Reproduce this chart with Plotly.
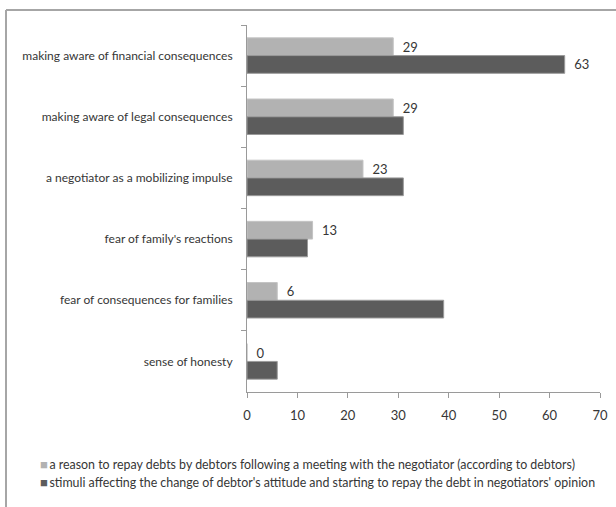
import plotly.graph_objects as go

categories = [
    "making aware of financial consequences",
    "making aware of legal consequences",
    "a negotiator as a mobilizing impulse",
    "fear of family's reactions",
    "fear of consequences for families",
    "sense of honesty",
]
debtors = [29, 29, 23, 13, 6, 0]
negotiators = [63, 31, 31, 12, 39, 6]
debtors_name = "a reason to repay debts by debtors following a meeting with the negotiator (according to debtors)"
negotiators_name = "stimuli affecting the change of debtor's attitude and starting to repay the debt in negotiators' opinion"
x_ticks = [0, 10, 20, 30, 40, 50, 60, 70]
neg_labelled = [True, False, False, False, False, False]

FONT = "Lato, 'Liberation Sans Narrow', sans-serif"
W, H = 616, 507
L, R, T, B = 247, 16, 25, 115
LIGHT, DARK = "#b2b2b2", "#5c5c5c"
TXT = "#363636"

fig = go.Figure()
fig.add_trace(go.Bar(
    y=categories, x=debtors, orientation="h", name=debtors_name,
    marker=dict(color=LIGHT, line=dict(color="#c4c4c4", width=1)),
    text=[str(v) for v in debtors], texttemplate="\u2002%{text}", textposition="outside",
    textfont=dict(family=FONT, size=13, color=TXT), cliponaxis=False, showlegend=False,
))
fig.add_trace(go.Bar(
    y=categories, x=negotiators, orientation="h", name=negotiators_name,
    marker=dict(color=DARK, line=dict(color="#9a9a9a", width=1)),
    text=[str(v) if f else "" for v, f in zip(negotiators, neg_labelled)],
    texttemplate="\u2002%{text}", textposition="outside",
    textfont=dict(family=FONT, size=13, color=TXT), cliponaxis=False, showlegend=False,
))

pw = W - L - R
ph = H - T - B
def px(xp):
    return (xp - L) / pw
def py(yp):
    return (H - B - yp) / ph

shapes = [
    dict(type="line", xref="paper", yref="paper", x0=px(6), x1=px(6), y0=py(10), y1=py(507),
         line=dict(color="#a6a6a6", width=2)),
    dict(type="line", xref="paper", yref="paper", x0=px(6), x1=px(616), y0=py(10), y1=py(10),
         line=dict(color="#a6a6a6", width=2)),
]

legend_items = [(debtors_name, LIGHT, 464), (negotiators_name, DARK, 482)]
annotations = [
    dict(xref="paper", yref="paper", x=px(38), y=py(yc), xanchor="left", yanchor="middle",
         showarrow=False, align="left",
         text=f"<span style='color:{c}; font-size:13px'>\u25a0</span>\u2009{name}",
         font=dict(family=FONT, size=12.4, color=TXT))
    for name, c, yc in legend_items
]

fig.update_layout(
    width=W, height=H,
    margin=dict(l=L, r=R, t=T, b=B, autoexpand=False),
    paper_bgcolor="white", plot_bgcolor="white",
    barmode="group", bargap=0.42, bargroupgap=0,
    font=dict(family=FONT, size=12, color=TXT),
    shapes=shapes, annotations=annotations,
    showlegend=False,
    xaxis=dict(
        range=[0, 70], tickvals=x_ticks, showgrid=False, zeroline=False,
        showline=True, linecolor="#9a9a9a", linewidth=1,
        ticks="outside", ticklen=5, tickcolor="#9a9a9a", ticklabelstandoff=6,
        tickfont=dict(family=FONT, size=13, color=TXT),
    ),
    yaxis=dict(
        autorange="reversed", showgrid=False, zeroline=False,
        showline=True, linecolor="#9a9a9a", linewidth=1,
        ticks="outside", ticklen=5, tickcolor="#9a9a9a", tickson="boundaries",
        ticklabelstandoff=11,
        tickfont=dict(family=FONT, size=12, color=TXT),
    ),
)

fig.write_html("out.html")
